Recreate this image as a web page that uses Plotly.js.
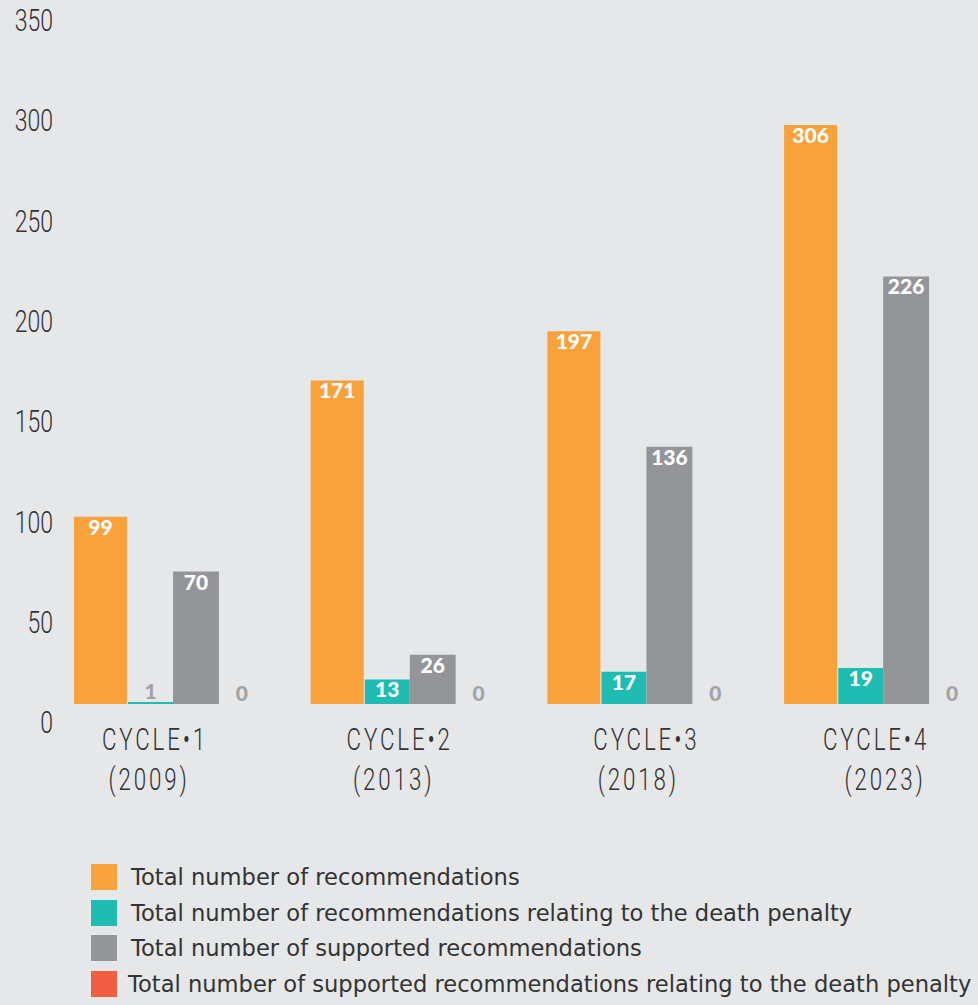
<!DOCTYPE html>
<html>
<head>
<meta charset="utf-8">
<script src="https://cdn.plot.ly/plotly-3.0.1.min.js"></script>
<style>
html,body{margin:0;padding:0;background:#e6e7e9;}
#chart{width:978px;height:1005px;}
.xtick text{letter-spacing:4px;}
</style>
</head>
<body>
<div id="chart"></div>
<script>
// ---- data ----
var cycles = ["CYCLE•1<br>(2009)", "CYCLE•2<br>(2013)", "CYCLE•3<br>(2018)", "CYCLE•4<br>(2023)"];
var seriesNames = [
  "Total number of recommendations",
  "Total number of recommendations relating to the death penalty",
  "Total number of supported recommendations",
  "Total number of supported recommendations relating to the death penalty"
];
var totalRec = [99, 171, 197, 306];
var deathPenaltyRec = [1, 13, 17, 19];
var supportedRec = [70, 26, 136, 226];
var supportedDeathPenaltyRec = [0, 0, 0, 0];
var yTickLabels = [0, 50, 100, 150, 200, 250, 300, 350];

// ---- styling ----
var colors = ["#f9a13b", "#1fbcb2", "#949598", "#f15d42"];
var offsets = [-0.3845, -0.156, 0.034, 0.228];
var widths = [0.224, 0.19, 0.194, 0.194];
var allSeries = [totalRec, deathPenaltyRec, supportedRec, supportedDeathPenaltyRec];
var thinFont = "Roboto, 'DejaVu Sans', sans-serif";
// per-label line nudges (px) to mimic the original's uneven label placement
var labelLineShift = [[-10, -16], [-2, -8], [8, 0], [1, 10]];

var W = 978, H = 1005, ML = 56, MR = 0, MT = 10, MB = 281;
var plotW = W - ML - MR, plotH = H - MT - MB;
function px2x(p){ return (p - ML) / plotW; }
function px2y(p){ return (H - MB - p) / plotH; }

var traces = allSeries.map(function(vals, k){
  return {
    type: "bar",
    x: cycles,
    y: vals,
    name: seriesNames[k],
    offset: offsets[k],
    width: widths[k],
    marker: {color: colors[k], line: {width: 0}},
    text: vals.map(String),
    textposition: vals.map(function(v){ return v >= 10 ? "inside" : "outside"; }),
    insidetextanchor: "end",
    textangle: 0,
    constraintext: "none",
    cliponaxis: false,
    textfont: {
      family: "Lato, 'Open Sans', sans-serif",
      size: 21,
      weight: 900,
      color: vals.map(function(v){ return v >= 10 ? "#ffffff" : "#a2a3a6"; })
    },
    hoverinfo: "x+y+name",
    showlegend: false
  };
});
// carrier so the tick-label axis (y2) is drawn; invisible
traces.push({
  type: "scatter", mode: "markers", x: [cycles[0]], y: [yTickLabels[0]],
  yaxis: "y2", marker: {opacity: 0, size: 1}, hoverinfo: "skip", showlegend: false
});

var shapes = [], annotations = [];
var legSqTop = [864, 900, 935, 971];
var legTextY = [877, 913, 948, 984];
var legTextX = [128, 128, 128, 125];
seriesNames.forEach(function(n, k){
  shapes.push({type: "rect", xref: "paper", yref: "paper",
    x0: px2x(91), x1: px2x(117), y0: px2y(legSqTop[k] + 26), y1: px2y(legSqTop[k]),
    fillcolor: colors[k], line: {width: 0}});
  annotations.push({xref: "paper", yref: "paper", x: px2x(legTextX[k]), y: px2y(legTextY[k]),
    xanchor: "left", yanchor: "middle", showarrow: false, text: n,
    font: {family: "'DejaVu Sans', sans-serif", size: 22.6, color: "#333333"}});
});

var layout = {
  width: W, height: H,
  margin: {l: ML, r: MR, t: MT, b: MB, pad: 0},
  paper_bgcolor: "#e6e7e9",
  plot_bgcolor: "#e6e7e9",
  barmode: "overlay",
  showlegend: false,
  xaxis: {
    type: "category",
    range: [-0.4605, -0.4605 + plotW / 236.7],
    showgrid: false, zeroline: false, showline: false, ticks: "",
    tickfont: {family: thinFont, size: 31, weight: 300, color: "#333333"}
  },
  yaxis: {
    range: [-(H - MB - 704) / 1.892, (704 - MT) / 1.892],
    showgrid: false, zeroline: false, showline: false, showticklabels: false, ticks: ""
  },
  yaxis2: {
    overlaying: "y", side: "left", anchor: "x",
    range: [-(H - MB - 722) / 2.006, (722 - MT) / 2.006],
    tickmode: "array", tickvals: yTickLabels, ticktext: yTickLabels.map(String),
    showgrid: false, zeroline: false, showline: false, ticks: "",
    tickfont: {family: thinFont, size: 32, weight: 300, color: "#333333"}
  },
  shapes: shapes,
  annotations: annotations
};

var SX = 0.72;
function squeeze(sel, sx, anchorRight, dx, dy){
  var list = [];
  document.querySelectorAll(sel).forEach(function(t){
    var b = t.getBBox();
    var cx = anchorRight ? b.x + b.width : b.x + b.width / 2;
    var cy = b.y + b.height / 2;
    var old = t.getAttribute("transform") || "";
    t.setAttribute("transform", "translate(" + dx + "," + dy + ") " + old + " translate(" + cx + "," + cy + ") scale(" + sx + ",1) translate(" + (-cx) + "," + (-cy) + ")");
    list.push(t);
  });
  return list;
}

Plotly.newPlot("chart", traces, layout, {displayModeBar: false, staticPlot: true}).then(function(){
  var xt = squeeze(".xtick text", SX, false, 0, -6);
  xt.forEach(function(t, i){
    var shifts = labelLineShift[i] || [0, 0];
    var lines = t.querySelectorAll("tspan.line");
    lines.forEach(function(ts, j){
      ts.setAttribute("dx", (shifts[j] || 0) / SX);
    });
  });
  squeeze(".y2tick text", SX, true, -2, 0);
  document.querySelectorAll("text.bartext").forEach(function(t){
    var f = t.style.fill || "";
    var isWhite = f.indexOf("255, 255, 255") >= 0 || f === "#ffffff" || f === "white";
    var old = t.getAttribute("transform") || "";
    t.setAttribute("transform", (isWhite ? "translate(0,-6) " : "translate(0,4) ") + old);
  });
});
</script>
</body>
</html>
